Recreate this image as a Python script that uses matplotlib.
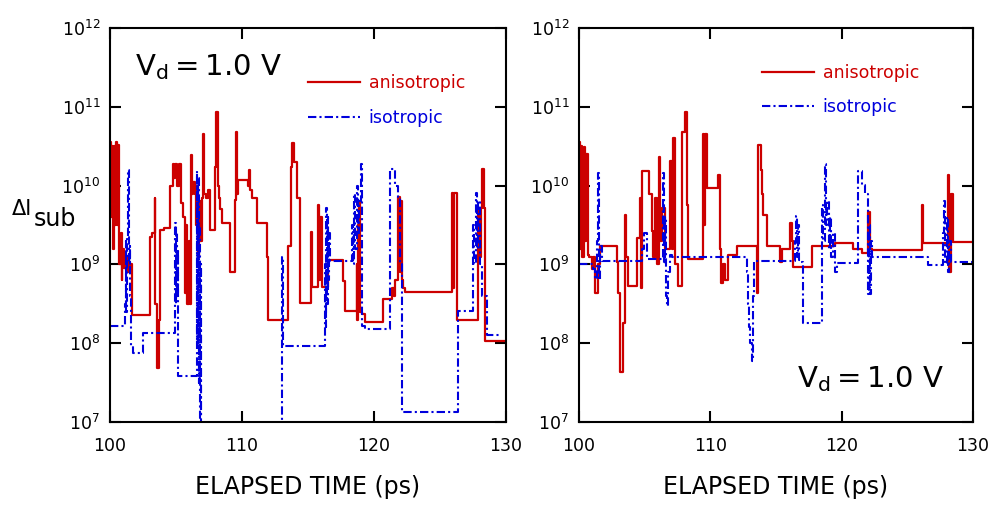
import numpy as np
import matplotlib.pyplot as plt
from matplotlib.ticker import LogLocator, NullLocator, FixedLocator

# (time in ps, log10 of delta I_sub) breakpoints, step "post"
left_aniso = [
    (100.0, 10.55), (100.08, 9.6), (100.15, 10.5), (100.22, 9.2), (100.3, 10.5),
    (100.38, 9.5), (100.45, 10.55), (100.55, 9.5), (100.62, 10.52), (100.7, 9.0),
    (100.8, 9.4), (100.88, 8.8), (100.95, 9.2), (101.05, 8.95), (101.2, 9.1),
    (101.35, 8.9), (101.5, 9.0), (101.65, 8.36), (103.03, 9.35), (103.2, 9.4),
    (103.38, 9.84), (103.45, 8.5), (103.55, 7.69), (103.7, 8.3), (103.8, 9.44),
    (104.1, 9.46), (104.55, 9.99), (104.75, 10.28), (104.85, 10.1), (104.95, 10.28),
    (105.1, 10.0), (105.25, 10.28), (105.4, 9.78), (105.5, 9.6), (105.65, 8.64),
    (105.75, 9.5), (105.85, 8.5), (105.95, 9.3), (106.05, 8.5), (106.12, 10.39),
    (106.2, 9.9), (106.3, 10.05), (106.45, 9.9), (106.55, 9.5), (106.62, 10.0),
    (106.7, 9.1), (106.78, 9.8), (106.86, 9.3), (106.95, 9.84), (107.05, 10.66),
    (107.12, 9.9), (107.3, 9.84), (107.45, 9.95), (107.58, 9.44), (107.95, 10.24),
    (108.05, 10.94), (108.15, 10.0), (108.25, 9.84), (108.35, 9.7), (108.46, 9.52),
    (109.09, 8.91), (109.47, 9.82), (109.55, 10.68), (109.65, 9.9), (109.72, 10.07),
    (110.48, 10.0), (110.55, 10.2), (110.62, 9.95), (110.73, 9.84), (111.11, 9.52),
    (111.87, 9.3), (111.92, 9.1), (111.99, 8.3), (113.51, 9.23), (113.7, 10.24),
    (113.82, 10.54), (113.95, 10.3), (114.14, 9.84), (114.39, 8.51), (115.2, 9.41),
    (115.28, 8.71), (115.78, 9.75), (115.85, 8.8), (115.92, 9.6), (116.03, 8.71),
    (116.54, 9.05), (117.67, 8.79), (117.8, 8.41), (118.68, 9.0), (118.75, 8.3),
    (118.82, 9.5), (118.9, 9.81), (118.97, 8.4), (119.06, 8.37), (119.32, 8.27),
    (120.7, 8.56), (121.34, 8.7), (121.5, 8.6), (121.6, 8.8), (121.84, 9.85),
    (121.95, 8.9), (122.02, 9.8), (122.1, 8.8), (122.2, 8.7), (122.35, 8.65),
    (125.88, 9.91), (126.0, 8.7), (126.1, 9.91), (126.26, 8.29), (127.9, 9.72),
    (128.0, 9.1), (128.1, 9.72), (128.2, 10.21), (128.3, 9.72), (128.41, 8.03),
    (130.0, 8.03),
]

left_iso = [
    (100.0, 8.22), (101.14, 8.5), (101.2, 9.3), (101.25, 8.4), (101.3, 9.33),
    (101.35, 10.2), (101.42, 9.0), (101.5, 9.23), (101.55, 8.6), (101.62, 7.96),
    (101.75, 7.88), (102.53, 8.13), (104.92, 9.52), (104.97, 8.5), (105.02, 9.4),
    (105.07, 8.6), (105.12, 9.2), (105.18, 7.58), (106.57, 10.18), (106.62, 8.0),
    (106.67, 10.1), (106.72, 7.5), (106.78, 9.5), (106.82, 7.05), (106.86, 9.0),
    (106.9, 6.0), (113.0, 9.1), (113.1, 7.96), (116.29, 9.0), (116.35, 8.2),
    (116.4, 9.72), (116.45, 8.5), (116.5, 9.6), (116.55, 8.8), (116.6, 9.4),
    (116.66, 9.04), (118.3, 9.5), (118.4, 9.0), (118.5, 9.9), (118.6, 9.2),
    (118.7, 10.0), (118.8, 9.4), (118.9, 9.8), (119.0, 10.27), (119.1, 8.22),
    (119.32, 8.18), (121.21, 10.21), (121.59, 10.0), (121.85, 9.85), (122.0, 9.0),
    (122.1, 7.13), (126.39, 8.41), (127.52, 9.5), (127.6, 9.0), (127.7, 9.91),
    (127.8, 9.2), (127.9, 9.8), (128.0, 9.0), (128.15, 8.6), (128.53, 8.1),
    (129.5, 8.1),
]

right_aniso = [
    (100.0, 10.55), (100.08, 9.2), (100.15, 10.5), (100.25, 9.1), (100.35, 10.49),
    (100.45, 9.3), (100.55, 10.4), (100.65, 9.12), (100.75, 9.1), (100.96, 8.94),
    (101.1, 9.1), (101.22, 8.64), (101.45, 9.0), (101.6, 9.24), (102.87, 9.03),
    (103.0, 8.64), (103.12, 7.64), (103.38, 8.26), (103.5, 9.63), (103.6, 9.1),
    (103.76, 8.73), (104.39, 9.33), (104.64, 9.84), (104.7, 8.7), (104.77, 10.19),
    (105.3, 9.9), (105.53, 9.42), (105.65, 9.1), (105.79, 9.84), (105.95, 9.0),
    (106.1, 10.36), (106.2, 9.3), (106.29, 9.72), (106.55, 9.2), (106.93, 10.31),
    (107.05, 9.2), (107.18, 10.61), (107.31, 9.0), (107.56, 8.73), (107.82, 10.68),
    (108.05, 10.94), (108.2, 9.76), (108.32, 9.07), (109.21, 9.07), (109.47, 10.66),
    (109.55, 9.5), (109.62, 10.66), (109.72, 9.97), (110.61, 10.14), (110.74, 9.2),
    (110.85, 8.77), (110.99, 9.0), (111.1, 8.8), (111.37, 9.12), (112.01, 9.24),
    (113.53, 8.64), (113.65, 10.52), (113.85, 10.2), (113.91, 9.9), (114.04, 9.63),
    (114.29, 9.24), (115.31, 9.03), (115.44, 9.2), (116.07, 9.52), (116.2, 9.3),
    (116.33, 8.97), (117.72, 9.24), (119.5, 9.27), (120.89, 9.2), (121.53, 9.14),
    (122.04, 9.67), (122.15, 9.2), (122.29, 9.18), (126.1, 9.76), (126.22, 9.27),
    (128.13, 10.14), (128.2, 8.9), (128.3, 9.9), (128.51, 9.29), (130.0, 9.29),
]

right_iso = [
    (100.0, 9.01), (101.0, 9.0), (101.1, 8.94), (101.2, 8.82), (101.35, 9.3),
    (101.45, 10.16), (101.52, 8.8), (101.6, 9.24), (101.75, 9.04), (104.77, 9.2),
    (104.95, 9.4), (105.15, 9.07), (106.42, 10.16), (106.5, 9.0), (106.55, 9.6),
    (106.6, 8.6), (106.7, 8.47), (106.8, 8.9), (106.93, 9.12), (107.1, 9.09),
    (112.77, 8.9), (112.85, 8.5), (112.95, 8.2), (113.05, 8.0), (113.15, 7.77),
    (113.25, 8.6), (113.35, 9.04), (116.45, 9.3), (116.5, 9.61), (116.58, 9.1),
    (116.65, 9.5), (116.72, 9.05), (116.9, 9.03), (117.09, 8.26), (118.48, 9.76),
    (118.6, 9.3), (118.7, 10.27), (118.8, 9.5), (118.9, 9.8), (119.0, 9.2),
    (119.1, 9.6), (119.2, 9.1), (119.35, 9.4), (119.5, 8.9), (119.63, 9.02),
    (121.28, 10.19), (121.53, 10.01), (121.75, 9.9), (122.04, 8.62), (122.1, 9.5),
    (122.15, 8.62), (122.2, 9.3), (122.29, 9.09), (126.6, 8.99), (127.75, 9.4),
    (127.82, 9.8), (127.9, 9.0), (128.0, 9.6), (128.1, 8.9), (128.2, 9.3),
    (128.3, 9.03), (130.0, 9.03),
]

x_ticks = [100, 110, 120, 130]
RED = '#cc0000'
BLUE = '#0000dd'

fig = plt.figure(figsize=(9.96, 5.05), dpi=100)
ax1 = fig.add_axes([0.1104, 0.1644, 0.3976, 0.780])
ax2 = fig.add_axes([0.5813, 0.1644, 0.3956, 0.780])


def draw(ax, ani, iso, leg_xy):
    t, e = zip(*ani)
    ax.step(t, 10 ** np.array(e), where='post', color=RED, lw=1.6,
            label='anisotropic')
    t, e = zip(*iso)
    ax.step(t, 10 ** np.array(e), where='post', color=BLUE, lw=1.5,
            dashes=(4, 1.5, 1, 1.5), label='isotropic')
    ax.set_yscale('log')
    ax.set_xlim(100, 130)
    ax.set_ylim(1e7, 1e12)
    ax.xaxis.set_major_locator(FixedLocator(x_ticks))
    ax.yaxis.set_major_locator(LogLocator(base=10, numticks=10))
    ax.yaxis.set_minor_locator(NullLocator())
    ax.tick_params(which='major', direction='in', length=8, width=1.5,
                   top=True, right=True, labelsize=12.5)
    ax.tick_params(axis='x', pad=11)
    ax.tick_params(axis='y', pad=7)
    for s in ax.spines.values():
        s.set_linewidth(1.5)
    ax.set_xlabel('ELAPSED TIME (ps)', fontsize=17, labelpad=14)
    ax.legend(loc='upper left', bbox_to_anchor=leg_xy, frameon=False,
              fontsize=12.5, handlelength=3.0, handletextpad=0.5,
              labelspacing=0.95, borderpad=0, borderaxespad=0,
              labelcolor='linecolor')


draw(ax1, left_aniso, left_iso, (0.5, 0.883))
draw(ax2, right_aniso, right_iso, (0.464, 0.909))

ax1.text(0.063, 0.881, r'$\mathregular{V_d = 1.0\ V}$', transform=ax1.transAxes,
         fontsize=21, ha='left', va='baseline')
ax2.text(0.553, 0.089, r'$\mathregular{V_d = 1.0\ V}$', transform=ax2.transAxes,
         fontsize=21, ha='left', va='baseline')

fig.text(12 / 996, 1 - 215 / 505, '\u0394I', fontsize=15, ha='left', va='baseline')
fig.text(34 / 996, 1 - 226 / 505, 'sub', fontsize=17, ha='left', va='baseline')

fig.savefig('out.png', dpi=100)
